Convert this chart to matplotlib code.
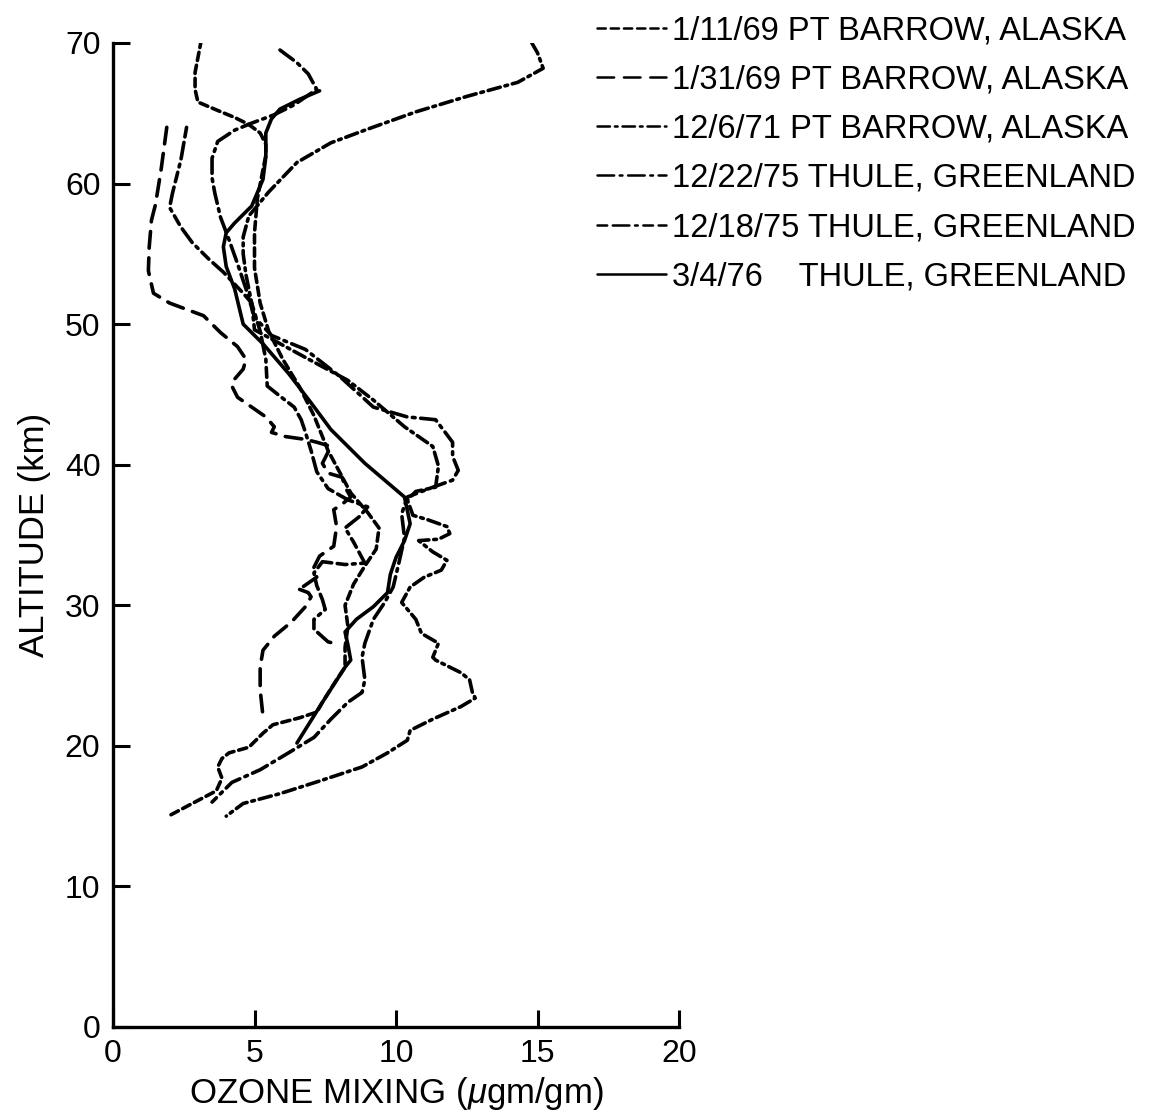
import matplotlib
matplotlib.use("Agg")
import matplotlib.pyplot as plt

plt.rcParams['font.family'] = ['Liberation Sans', 'DejaVu Sans']
plt.rcParams['lines.scale_dashes'] = False
plt.rcParams['mathtext.fontset'] = 'custom'
plt.rcParams['mathtext.it'] = 'Liberation Sans:italic'
plt.rcParams['mathtext.rm'] = 'Liberation Sans'

# ---------------- data (ozone mixing ratio in ugm/gm vs altitude km) ----------------
labels = ["1/11/69 PT BARROW, ALASKA",
          "1/31/69 PT BARROW, ALASKA",
          "12/6/71 PT BARROW, ALASKA",
          "12/22/75 THULE, GREENLAND",
          "12/18/75 THULE, GREENLAND",
          "3/4/76    THULE, GREENLAND"]

ozone_1_11_69 = [2.05, 2.8, 3.65, 3.85, 3.7, 3.85, 4.1, 4.8, 5.3, 5.65, 6.6, 7.2, 7.4, 7.9, 8.2,
                 8.2, 8.3, 8.2, 8.5, 8.9, 9.3, 9.4, 9.0, 8.4, 8.0, 7.6, 7.1, 6.6, 6.0, 5.5, 5.2,
                 5.0, 5.0, 5.1, 5.3, 5.4, 5.4, 5.2, 4.8, 4.3, 3.7, 3.0, 2.9, 2.9, 3.1]
alt_1_11_69 = [15.1, 15.9, 16.8, 17.7, 18.5, 19.1, 19.5, 19.9, 20.9, 21.5, 22.0, 22.4, 23.1, 24.7, 25.6,
               27.0, 28.5, 30.0, 31.5, 32.8, 34.0, 35.5, 36.6, 38.0, 39.5, 41.0, 43.5, 45.5, 47.5, 49.5, 51.5,
               54.0, 56.5, 58.9, 61.0, 62.0, 62.8, 63.6, 64.2, 64.7, 65.2, 65.8, 66.7, 67.9, 70.0]

ozone_1_31_69 = [1.9, 1.7, 1.5, 1.36, 1.28, 1.25, 1.43, 2.0, 3.2, 3.8, 4.4, 4.7, 4.6, 4.3, 4.2, 4.4,
                 4.9, 5.4, 5.7, 5.6, 6.1, 6.8, 7.2, 7.7, 7.4, 7.6, 8.1, 8.2, 8.4, 8.1, 7.8, 7.9, 7.8,
                 7.3, 7.1, 7.2, 6.7, 6.5, 6.9, 7.0, 6.8, 6.3, 5.7, 5.3, 5.2, 5.2, 5.3]
alt_1_31_69 = [64.0, 61.0, 58.5, 57.4, 55.5, 53.8, 52.2, 51.5, 50.6, 49.4, 48.4, 47.5, 46.8, 46.1, 45.6, 44.8,
               44.1, 43.4, 42.7, 42.3, 42.0, 41.8, 41.6, 41.3, 40.1, 39.4, 39.1, 38.4, 37.7, 37.2, 36.8, 35.6, 34.2,
               33.5, 32.7, 32.0, 31.3, 31.2, 30.9, 30.6, 29.9, 28.8, 27.8, 26.8, 25.6, 24.0, 22.1]

ozone_12_6_71 = [14.8, 15.0, 15.2, 14.3, 12.5, 10.7, 8.9, 7.7, 6.5, 5.5, 4.8, 4.6, 4.6, 4.7, 4.9, 5.0,
                 7.1, 8.3, 9.2, 10.3, 11.3, 11.5, 11.4, 10.7, 10.4,
                 10.6, 11.1, 11.8, 11.9, 11.5, 10.8, 11.3, 11.8, 11.6, 11.0, 10.5, 10.2, 10.7, 10.9, 11.5,
                 11.3, 11.4, 12.3, 12.6, 12.7, 12.8, 12.3, 11.3, 10.5, 10.4, 9.7, 8.8, 7.3, 5.9, 4.6, 4.0]
alt_12_6_71 = [70.0, 69.3, 68.2, 67.2, 66.2, 65.1, 63.8, 62.9, 61.5, 59.4, 57.7, 56.2, 55.0, 53.5, 51.5, 49.6,
               47.3, 46.0, 44.6, 42.7, 41.3, 39.9, 38.4, 38.1, 37.5,
               36.4, 36.1, 35.6, 35.1, 34.7, 34.6, 33.8, 33.2, 32.5, 32.0, 31.3, 30.2, 29.0, 28.0, 27.3,
               26.3, 26.1, 25.2, 24.7, 23.8, 23.4, 22.8, 21.9, 21.1, 20.4, 19.5, 18.5, 17.5, 16.6, 15.9, 15.0]

ozone_12_22_75 = [5.9, 6.5, 6.9, 7.2, 6.4, 5.7, 4.9, 4.3, 3.7, 3.5, 3.5, 3.6, 3.8, 4.1, 4.4, 4.7, 5.0,
                  5.6, 6.8, 8.0, 9.2, 10.4, 11.4, 12.0, 12.0, 12.2, 12.0, 11.3, 10.4, 10.2, 10.3, 10.1,
                  9.9, 9.6, 9.2, 8.9, 8.8, 8.9, 8.8, 8.3, 7.7, 7.1, 6.2, 5.2, 4.2, 3.5]
alt_12_22_75 = [69.5, 68.6, 67.8, 66.7, 65.6, 64.9, 64.3, 63.8, 63.0, 61.8, 60.4, 59.3, 57.6, 56.0, 54.3, 52.5, 50.5,
                49.2, 48.2, 46.3, 44.1, 43.4, 43.2, 41.6, 40.6, 39.6, 38.9, 38.4, 37.7, 36.5, 34.8, 33.0,
                31.3, 30.2, 29.0, 27.3, 26.3, 24.7, 23.8, 23.1, 21.9, 20.6, 19.5, 18.3, 17.4, 16.0]

ozone_12_18_75 = [2.6, 2.4, 2.1, 2.0, 2.4, 2.8, 3.4, 3.9, 4.6, 4.9, 5.2, 5.4, 5.45, 5.95, 6.4, 6.65, 6.8,
                  7.0, 7.2, 7.6, 8.3, 9.0, 8.7, 8.2, 8.5, 8.9, 8.2, 7.4, 7.1, 7.2, 7.4, 7.5, 7.1, 7.1, 7.6, 7.8]
alt_12_18_75 = [64.0, 61.7, 59.3, 58.3, 56.9, 55.8, 54.6, 53.7, 52.2, 51.5, 49.5, 47.5, 45.6, 44.8, 44.1, 43.2, 42.3,
                41.0, 39.5, 38.3, 37.5, 37.0, 36.3, 35.5, 34.5, 33.0, 32.9, 33.1, 32.3, 31.4, 30.4, 29.7, 29.0, 28.3, 27.4, 27.3]

ozone_3_4_76 = [7.3, 6.6, 5.9, 5.6, 5.4, 5.4, 5.3, 4.9, 4.3, 4.0, 3.9, 4.0, 4.3, 4.6, 5.3, 6.2, 7.0, 7.7,
                8.9, 10.3, 10.5, 10.3, 10.0, 9.8, 9.7, 9.2, 8.6, 8.2, 8.3, 8.4, 8.2, 7.4, 6.5]
alt_3_4_76 = [66.6, 66.0, 65.3, 64.6, 63.6, 61.9, 60.3, 58.4, 57.2, 56.5, 55.5, 54.1, 52.5, 50.0, 48.6, 46.5, 44.4, 42.5,
              40.1, 37.7, 35.8, 34.6, 33.4, 32.2, 30.9, 29.9, 29.0, 28.1, 27.2, 26.1, 25.6, 23.1, 20.2]

x_ticks = [0, 5, 10, 15, 20]
y_ticks = [0, 10, 20, 30, 40, 50, 60, 70]

# ---------------- figure ----------------
W, H = 1151, 1112
fig = plt.figure(figsize=(W / 100, H / 100), dpi=100)
ax = fig.add_axes([113 / W, 1 - 1027 / H, (679 - 113) / W, (1027 - 43) / H])

series = [
    (ozone_1_11_69, alt_1_11_69, (0, (6, 3.5))),
    (ozone_1_31_69, alt_1_31_69, (0, (12, 7))),
    (ozone_12_6_71, alt_12_6_71, (0, (9, 3.5, 2, 3.5))),
    (ozone_12_22_75, alt_12_22_75, (0, (12, 4, 2, 4))),
    (ozone_12_18_75, alt_12_18_75, (0, (7, 4, 12, 4, 2, 4))),
    (ozone_3_4_76, alt_3_4_76, '-'),
]
handles = []
for (xs, ys, ls), lab in zip(series, labels):
    ln, = ax.plot(xs, ys, color='black', lw=2.6, linestyle=ls, solid_capstyle='round',
                  dash_capstyle='round', label=lab)
    handles.append(ln)

ax.set_xlim(0, 20)
ax.set_ylim(0, 70)
ax.set_xticks(x_ticks)
ax.set_yticks(y_ticks)
for s in ['top', 'right']:
    ax.spines[s].set_visible(False)
for s in ['left', 'bottom']:
    ax.spines[s].set_linewidth(2.4)
ax.tick_params(direction='in', length=12, width=2.2, labelsize=23, pad=9, color='black')
ax.set_xlabel(r"OZONE MIXING ($\mu$gm/gm)", fontsize=25, labelpad=4)
ax.set_ylabel("ALTITUDE (km)", fontsize=25, labelpad=10)

leg = ax.legend(handles=handles, loc='upper left', bbox_to_anchor=(597 / W, 1 - 15 / H),
                bbox_transform=fig.transFigure, frameon=False, fontsize=23.5,
                handlelength=2.1, handletextpad=0.2, labelspacing=0.56,
                borderpad=0, borderaxespad=0)
for lh in leg.legend_handles:
    lh.set_linewidth(1.8)

fig.savefig("out.png", dpi=100, facecolor='white')
